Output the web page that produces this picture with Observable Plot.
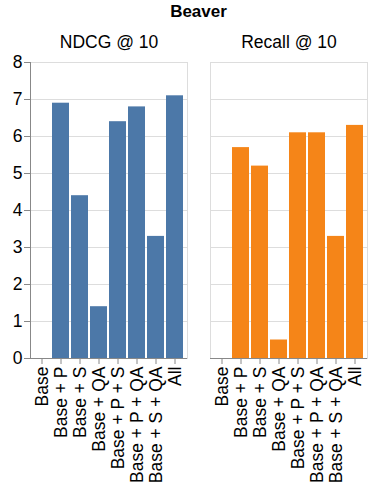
<!DOCTYPE html>
<html>
<head>
<meta charset="utf-8">
<script src="https://cdn.jsdelivr.net/npm/d3@7"></script>
<script src="https://cdn.jsdelivr.net/npm/@observablehq/plot@0.6"></script>
<style>
  html, body { margin: 0; padding: 0; background: #fff; }
  #wrap { width: 379px; font-family: "Liberation Sans", Arial, sans-serif; }
  #title { height: 24px; line-height: 24px; font-size: 17px; font-weight: bold; text-align: center; padding-left: 29px; padding-right: 11px; color: #000; }
  svg { display: block; }
</style>
</head>
<body>
<div id="wrap">
  <div id="title">Beaver</div>
  <div id="chart"></div>
</div>
<script>
const categories = ["Base", "Base + P", "Base + S", "Base + QA", "Base + P + S", "Base + P + QA", "Base + S + QA", "All"];
const metrics = ["NDCG @ 10", "Recall @ 10"];
const ndcg = [0, 6.9, 4.4, 1.4, 6.4, 6.8, 3.3, 7.1];
const recall = [0, 5.7, 5.2, 0.5, 6.1, 6.1, 3.3, 6.3];
const colors = ["#4c78a8", "#f58518"];
const yTicks = [0, 1, 2, 3, 4, 5, 6, 7, 8];

const data = [
  ...categories.map((c, i) => ({metric: metrics[0], category: c, value: ndcg[i]})),
  ...categories.map((c, i) => ({metric: metrics[1], category: c, value: recall[i]}))
];

const chart = Plot.plot({
  width: 379,
  height: 466,
  marginLeft: 29,
  marginRight: 11,
  marginTop: 38,
  marginBottom: 132,
  style: {fontFamily: "'Liberation Sans', Arial, sans-serif", fontSize: "17.5px", color: "#000", background: "#fff"},
  fx: {domain: metrics, paddingInner: 0.127, paddingOuter: 0, label: null},
  x: {domain: categories, paddingInner: 0.1, paddingOuter: 0.05, label: null},
  y: {domain: [0, 8], label: null},
  color: {domain: metrics, range: colors},
  marks: [
    Plot.gridY(yTicks, {stroke: "#ddd", strokeOpacity: 1}),
    Plot.frame({stroke: "#ddd"}),
    Plot.barY(data, {fx: "metric", x: "category", y: "value", fill: "metric", inset: 0}),
    Plot.ruleY([0], {stroke: "#888"}),
    Plot.frame({anchor: "left", facetAnchor: "left", stroke: "#888"}),
    Plot.axisY(yTicks, {tickSize: 6, tickPadding: 2, stroke: "#888", fill: "#000", label: null}),
    Plot.axisX({tickSize: 6, tickPadding: 2, tickRotate: -90, stroke: "#888", fill: "#000", label: null}),
    Plot.axisFx({anchor: "top", tickSize: 0, tickPadding: 15, fill: "#000", label: null})
  ]
});
document.getElementById("chart").appendChild(chart);
</script>
</body>
</html>
